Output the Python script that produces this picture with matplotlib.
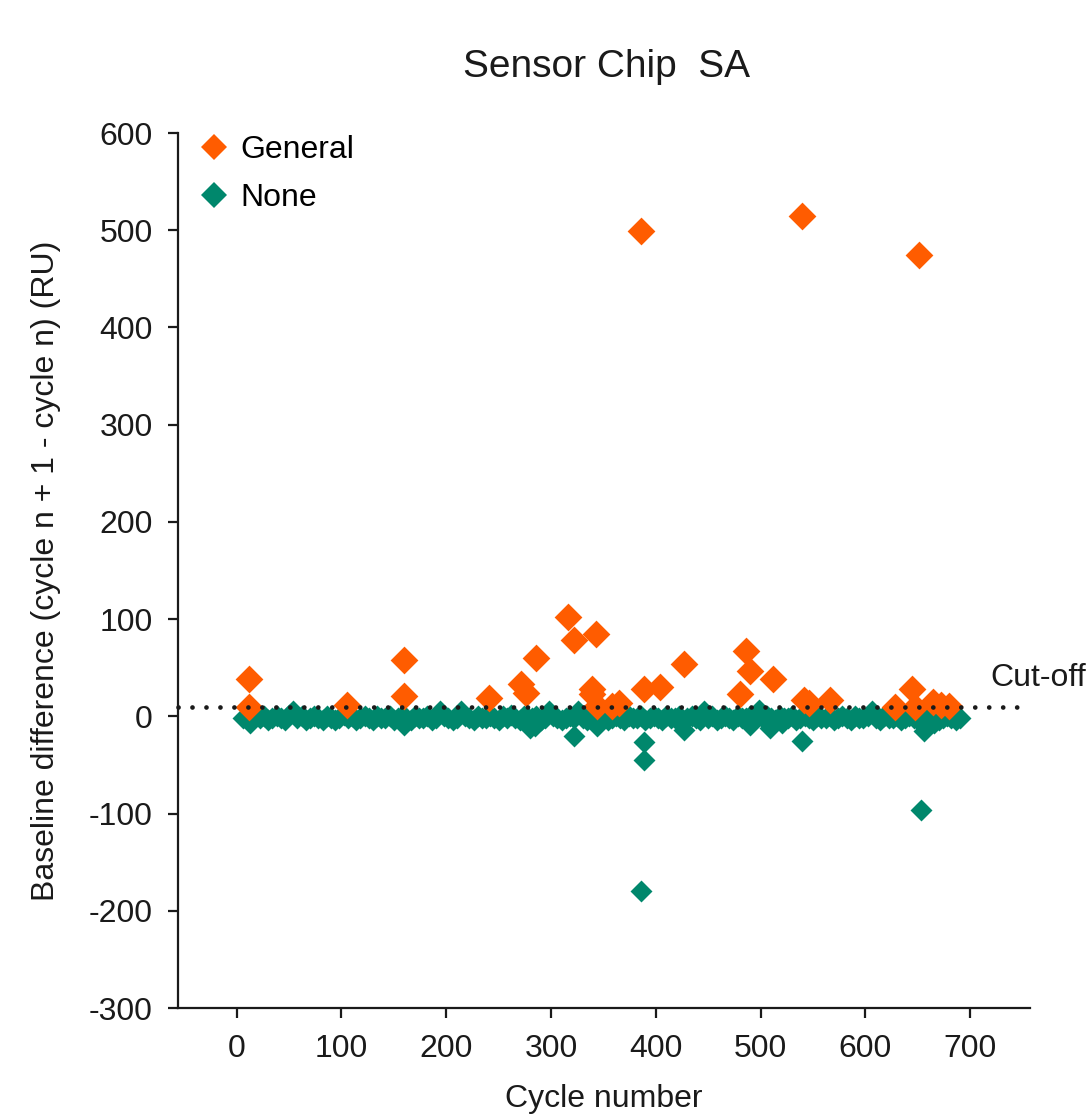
import numpy as np
import matplotlib
matplotlib.use("Agg")
import matplotlib.pyplot as plt
from matplotlib.lines import Line2D

plt.rcParams['font.family'] = ['Liberation Sans', 'DejaVu Sans']
plt.rcParams['axes.unicode_minus'] = False

''' Data read off the chart. '''
# "General" flagged cycles (orange)
general_cycles = [12, 12, 105, 160, 160, 241, 271, 276, 286, 316, 322, 343, 339, 339, 344,
                  358, 365, 386, 389, 404, 427, 480, 486, 490, 512, 539, 541, 546, 566,
                  628, 644, 647, 651, 664, 672, 680]
general_values = [38, 10, 12, 58, 21, 19, 33, 24, 60, 102, 79, 85, 28, 23, 11,
                  11, 14, 499, 28, 30, 54, 23, 67, 47, 38, 515, 17, 14, 17,
                  10, 28, 10, 475, 15, 12, 11]

# "None" cycles: the dense band near zero, one value every 4 cycles from cycle 6
none_band_start, none_band_step = 6, 4
none_band_values = [
    -2, 0, -4, 4, -2, 0, -4, -2, 0, -2, -4, 1, 5, -2, 0, -4, -2, 0, -2, -4,
    0, -2, -4, -2, 1, -2, 0, -4, -2, 0, -2, -4, 0, -2, -2, 0, -4, -2, 0, -2,
    -4, 0, -2, -2, 0, -4, -2, 5, 0, -2, -4, -2, 5, 0, -2, -4, 0, -2, -2, 0,
    -2, -4, 0, -2, 1, -2, -4, 0, -2, -2, 0, -4, -2, 5, 0, -2, -4, -2, 0, -2,
    5, -2, -4, 0, -2, -2, 0, -4, -2, 0, -2, -4, 0, -2, -2, 0, -4, -2, 0, -2,
    -4, 0, -2, -2, 0, -4, -2, 0, -2, -4, 6, -2, 0, -4, -2, 0, -2, -4, 0, -2,
    -2, 0, -4, 7, -2, 0, -2, -4, 0, -2, -2, 0, -4, -2, 0, -2, -4, 0, -2, -2,
    0, -4, -2, 0, -2, -4, 0, -2, -2, 0, 5, -2, -4, 0, -2, -2, 0, -4, -2, 0,
    -2, -4, 0, -2, -2, 0, -4, -2, 0, -2, -4, -2,
]
# "None" cycles that stick out below the band
none_extra_cycles = [13, 160, 280, 285, 322, 344, 389, 389, 386, 427, 490, 509, 520, 539, 653, 656, 665]
none_extra_values = [-7, -9, -12, -10, -20, -10, -26, -45, -180, -14, -9, -12, -7, -25, -96, -15, -7]

cutoff = 10
x_ticks = [0, 100, 200, 300, 400, 500, 600, 700]
y_ticks = [-300, -200, -100, 0, 100, 200, 300, 400, 500, 600]

orange = '#ff5c00'
teal = '#00876c'

none_cycles = list(none_band_start + none_band_step * np.arange(len(none_band_values))) + none_extra_cycles
none_values = none_band_values + none_extra_values

''' Plot. '''
fig = plt.figure(figsize=(10.9, 11.18), dpi=100)
ax = fig.add_axes([178/1090, 1 - 1008/1118, (1030-178)/1090, (1008-133)/1118])

ax.scatter(none_cycles, none_values, marker='D', s=125, color=teal, linewidths=0, zorder=2)
ax.scatter(general_cycles, general_values, marker='D', s=200, color=orange, linewidths=0, zorder=3)
ax.plot([-56, 746], [cutoff, cutoff], color='#1a1a1a', lw=3.4, linestyle=(0, (0.01, 2.95)),
        dash_capstyle='round', zorder=4, clip_on=False)
ax.text(719, 39, 'Cut-off', fontsize=23, ha='left', va='center', color='#1a1a1a', clip_on=False)

ax.set_xlim(-56, 757)
ax.set_ylim(-300, 600)
ax.set_xticks(x_ticks)
ax.set_yticks(y_ticks)
for side in ['top', 'right']:
    ax.spines[side].set_visible(False)
for side in ['left', 'bottom']:
    ax.spines[side].set_linewidth(1.6)
    ax.spines[side].set_color('#1a1a1a')
ax.tick_params(direction='out', length=7, width=1.6, labelsize=23, color='#1a1a1a',
               labelcolor='#1a1a1a')
ax.tick_params(axis='y', pad=11)
ax.tick_params(axis='x', pad=12)

ax.set_xlabel('Cycle number', fontsize=23, labelpad=14, color='#1a1a1a')
ax.set_ylabel('Baseline difference (cycle n + 1 - cycle n) (RU)', fontsize=23, labelpad=20,
              color='#1a1a1a')
fig.text(607/1090, 1 - 67/1118, 'Sensor Chip  SA', fontsize=28, ha='center', va='center',
         color='#1a1a1a')

handles = [Line2D([], [], marker='D', ls='none', ms=13, mew=0, color=orange),
           Line2D([], [], marker='D', ls='none', ms=13, mew=0, color=teal)]
ax.legend(handles, ['General', 'None'], loc='upper left', bbox_to_anchor=(0.008, 1.012),
          frameon=False, fontsize=23, handlelength=1.0, handletextpad=0.35,
          labelspacing=0.55, borderaxespad=0)

plt.savefig('out.png', dpi=100)
